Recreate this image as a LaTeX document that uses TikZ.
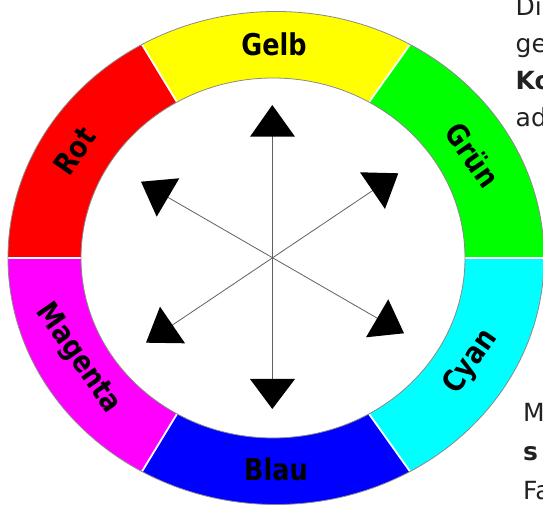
\documentclass[tikz,border=0pt]{standalone}
\usepackage{fontspec}
\setmainfont{DejaVu Sans}
\newfontfamily\labfont[FakeStretch=0.85]{DejaVu Sans}
\usetikzlibrary{calc}
\definecolor{ringgray}{HTML}{8A8A8A}
\definecolor{axisgray}{HTML}{606060}
\definecolor{bodytext}{HTML}{202122}
\definecolor{segred}{RGB}{255,0,0}
\definecolor{segyellow}{RGB}{255,255,0}
\definecolor{seggreen}{RGB}{0,255,0}
\definecolor{segcyan}{RGB}{0,255,255}
\definecolor{segblue}{RGB}{0,0,255}
\definecolor{segmagenta}{RGB}{255,0,255}
\newcommand\ringseg[3]{%
  \fill[#1] ($(oc)+({268*cos(#2)},{246.5*sin(#2)})$)
    arc[start angle=#2,end angle=#3,x radius=268pt,y radius=246.5pt]
    -- ($(ic)+({192*cos(#3)},{180*sin(#3)})$)
    arc[start angle=#3,end angle=#2,x radius=192pt,y radius=180pt] -- cycle;}
\tikzset{
  lab/.style={font=\labfont\bfseries\fontsize{30}{36}\selectfont, inner sep=0pt, text=black},
  axisline/.style={draw=axisgray, line width=0.8pt},
  tip/.style={fill=black},
  txt/.style={font=\fontsize{25}{30}\selectfont, text=bodytext, anchor=base west, inner sep=0pt},
  sep/.style={draw=white, line width=1.8pt},
  rim/.style={draw=ringgray, line width=0.8pt}
}
\begin{document}
\begin{tikzpicture}[x=1pt,y=1pt]
\useasboundingbox (0,0) rectangle (543,508);
\clip (0,0) rectangle (543,508);
\coordinate (oc) at (276,250);
\coordinate (ic) at (273,250);
% ring segments
\ringseg{seggreen}{0}{60}
\ringseg{segyellow}{60}{120}
\ringseg{segred}{120}{180}
\ringseg{segmagenta}{180}{240}
\ringseg{segblue}{240}{300}
\ringseg{segcyan}{300}{360}
% white separators
\foreach \a in {0,60,120,180,240,300}{
  \coordinate (si\a) at ($(ic)+({192*cos(\a)},{180*sin(\a)})$);
  \coordinate (so\a) at ($(oc)+({268*cos(\a)},{246.5*sin(\a)})$);
  \draw[sep] (si\a) -- (so\a);
}
% rims
\draw[rim] (oc) ellipse[x radius=268pt, y radius=246.5pt];
\draw[rim] (ic) ellipse[x radius=192pt, y radius=180pt];
% labels
\node[lab] (gelb) at (274,464) {Gelb};
\node[lab, rotate=55] (rot) at (75,357) {Rot};
\node[lab, rotate=-55] (gruen) at (473,353) {Grün};
\node[lab, rotate=55] (cyanl) at (471,146) {Cyan};
\node[lab, rotate=-55] (magental) at (78,149) {Magenta};
\node[lab] (blau) at (276,39) {Blau};
% arrows
\coordinate (c) at (272.3,250.3);
\coordinate (topend) at (272.3,372);
\coordinate (botend) at (272.3,128.5);
\coordinate (ulend) at (159,315.8);
\coordinate (lrend) at (386.1,184.7);
\coordinate (urend) at (381.1,323.1);
\coordinate (llend) at (163.7,177.1);
\draw[axisline] (topend) -- (botend);
\draw[axisline] (ulend) -- (lrend);
\draw[axisline] (urend) -- (llend);
\fill[tip] (272.3,403) -- (250,371.3) -- (295,371.3) -- cycle;
\fill[tip] (272.3,99) -- (250,129) -- (295,129) -- cycle;
\fill[tip] (141,326.3) -- (179.3,329.7) -- (156.7,291.3) -- cycle;
\fill[tip] (360,335.7) -- (398.3,334.7) -- (385,299) -- cycle;
\fill[tip] (160,201.3) -- (146,165.3) -- (185,164.7) -- cycle;
\fill[tip] (388.3,208.7) -- (366,170.7) -- (404,174.7) -- cycle;
% side text fragments
\node[txt] (t1) at (515.5,492) {Di};
\node[txt] (t2) at (515.5,455) {ge};
\node[txt] (t3) at (515.5,418) {\bfseries Ko};
\node[txt] (t4) at (515.5,381) {ad};
\node[txt] (t5) at (523,86) {M};
\node[txt] (t6) at (523,47) {\bfseries s};
\node[txt] (t7) at (523,8) {Fa};
\end{tikzpicture}
\end{document}
